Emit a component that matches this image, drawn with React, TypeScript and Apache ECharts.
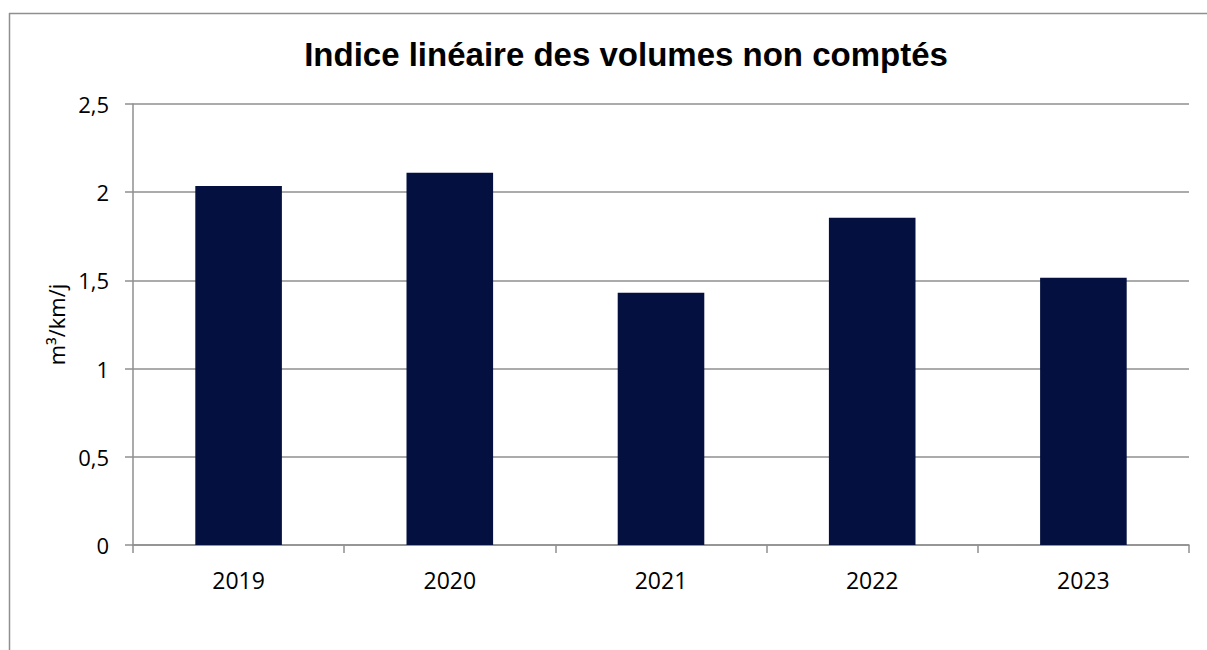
import React, { useEffect, useRef } from "react";
import * as echarts from "echarts";

const years = ["2019", "2020", "2021", "2022", "2023"];
const values = [2.035, 2.11, 1.43, 1.855, 1.515];
const titleText = "Indice linéaire des volumes non comptés";
const yAxisName = "m³/km/j";

export default function App() {
  const ref = useRef<HTMLDivElement>(null);
  useEffect(() => {
    if (!ref.current) return;
    const chart = echarts.init(ref.current, undefined, { renderer: "svg" });
    const gray = "#8f8f8f";
    chart.setOption({
      animation: false,
      backgroundColor: "#ffffff",
      title: {
        text: titleText,
        left: 621,
        textAlign: "center",
        top: 33,
        textStyle: {
          fontFamily: "Liberation Sans, Arial, sans-serif",
          fontWeight: "bold",
          fontSize: 33,
          color: "#000",
        },
      },
      graphic: [
        { type: "line", shape: { x1: 9, y1: 13.5, x2: 1207, y2: 13.5 }, style: { stroke: gray, lineWidth: 1.5 } },
        { type: "line", shape: { x1: 9.5, y1: 13, x2: 9.5, y2: 650 }, style: { stroke: gray, lineWidth: 1.5 } },
      ],
      grid: { left: 133, right: 18, top: 104, bottom: 105, containLabel: false },
      xAxis: {
        type: "category",
        data: years,
        axisLine: { show: true, lineStyle: { color: gray, width: 1.5 } },
        axisTick: { show: true, length: 8, lineStyle: { color: gray, width: 1.5 } },
        axisLabel: {
          margin: 23,
          fontFamily: "Open Sans, Noto Sans, sans-serif",
          fontSize: 23,
          color: "#000",
        },
      },
      yAxis: {
        type: "value",
        min: 0,
        max: 2.5,
        interval: 0.5,
        name: yAxisName,
        nameLocation: "middle",
        nameGap: 62,
        nameRotate: 90,
        nameTextStyle: {
          fontFamily: "Open Sans, Noto Sans, sans-serif",
          fontSize: 22,
          color: "#000",
        },
        axisLine: { show: true, lineStyle: { color: gray, width: 1.5 } },
        axisTick: { show: true, length: 8, lineStyle: { color: gray, width: 1.5 } },
        splitLine: { show: true, lineStyle: { color: gray, width: 1.5 } },
        axisLabel: {
          margin: 24,
          fontFamily: "Open Sans, Noto Sans, sans-serif",
          fontSize: 22,
          color: "#000",
          formatter: (v: number) => String(v).replace(".", ","),
        },
      },
      series: [
        {
          type: "bar",
          data: values,
          barWidth: "41%",
          itemStyle: { color: "#041040" },
        },
      ],
    });
    return () => chart.dispose();
  }, []);
  return (
    <div
      ref={ref}
      style={{ position: "fixed", left: 0, top: 0, width: 1207, height: 650 }}
    />
  );
}
